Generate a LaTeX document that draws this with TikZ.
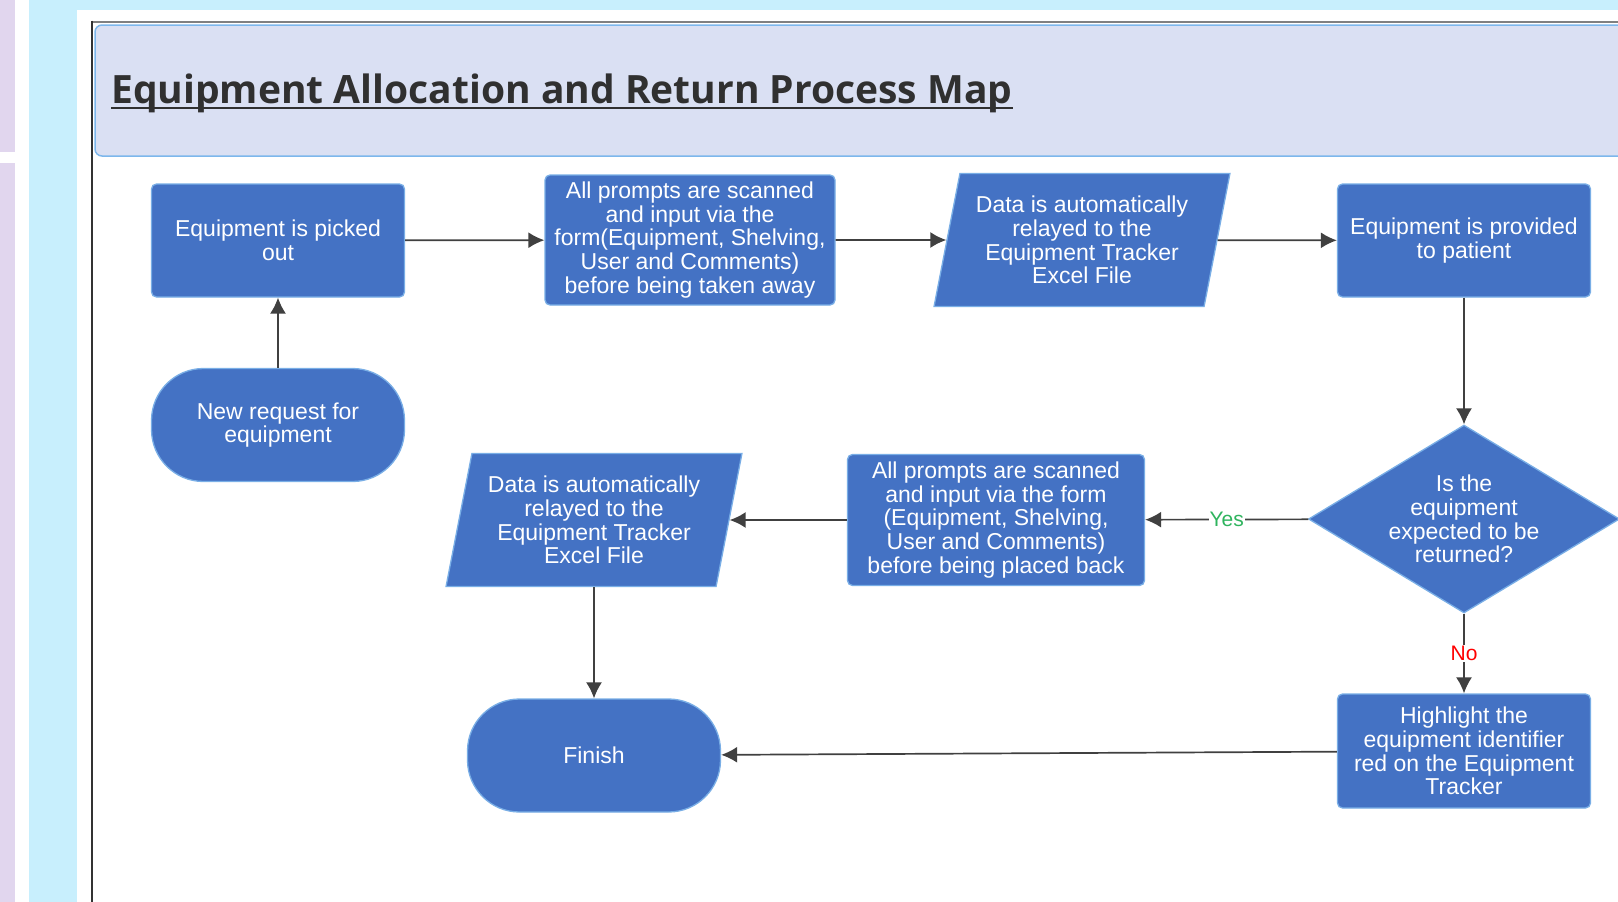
\documentclass[tikz,border=0pt]{standalone}
\usepackage{fontspec}
\setmainfont{Liberation Sans}
\newfontfamily\titlefont{Open Sans}
\usetikzlibrary{shapes.geometric,arrows.meta}

\definecolor{boxblue}{HTML}{4472C4}
\definecolor{edgeblue}{HTML}{79AEE6}
\definecolor{panelfill}{HTML}{DAE0F3}
\definecolor{paneledge}{HTML}{7DB7EC}
\definecolor{sidecyan}{HTML}{C8EFFD}
\definecolor{sidelilac}{HTML}{E1D6EE}
\definecolor{yesgreen}{HTML}{2FB45E}
\definecolor{titlegray}{HTML}{303030}

\tikzset{
  boxtext/.style={font=\fontsize{23}{23.7}\selectfont, text=white, align=center},
  proc/.style={rectangle, rounded corners=5pt, fill=boxblue, draw=edgeblue,
    line width=1.3pt, boxtext, inner sep=3pt, minimum width=253pt, minimum height=113pt},
  term/.style={proc, rounded corners=52pt},
  data/.style={trapezium, trapezium left angle=76, trapezium right angle=104,
    trapezium stretches=true, fill=boxblue, draw=edgeblue, line width=1.3pt,
    boxtext, inner sep=2pt, minimum width=296pt, minimum height=133pt},
  decision/.style={diamond, aspect=1.65, fill=boxblue, draw=edgeblue, line width=1.3pt,
    boxtext, inner sep=1pt, minimum width=311pt, minimum height=188pt},
  flow/.style={draw=black!75, line width=1.7pt, -{Latex[length=16pt,width=16pt]}},
  answer/.style={fill=white, inner sep=1pt, font=\fontsize{21}{22}\selectfont}
}

\begin{document}
\begin{tikzpicture}[x=1pt,y=-1pt]
  \useasboundingbox (0,0) rectangle (1618,902);
  % page background and side strips
  \fill[white] (0,0) rectangle (1618,902);
  \fill[sidelilac] (0,0) rectangle (15,152);
  \fill[sidelilac] (0,163) rectangle (15,902);
  \fill[sidecyan] (29,0) rectangle (1618,10);
  \fill[sidecyan] (29,0) rectangle (77,902);
  \draw[black!50, line width=2pt] (91,21.5) -- (1618,21.5);
  \draw[black!80, line width=2pt] (92,20.5) -- (92,902);

  % heading panel
  \draw[fill=panelfill, draw=paneledge, line width=1.5pt, rounded corners=7pt]
    (95,25) rectangle (1640,156);
  \node[anchor=base west, inner sep=0pt, text=titlegray,
    font=\titlefont\bfseries\fontsize{39}{43}\selectfont] (title) at (111,103)
    {Equipment Allocation and Return Process Map};
  \draw[titlegray, line width=2.6pt] ([yshift=-5pt]title.base west) -- ([yshift=-5pt]title.base east);

  % top row
  \node[proc] (pick) at (278,240.5) {Equipment is picked\\out};
  \node[proc, minimum width=290pt, minimum height=130pt] (scan1) at (690,240)
    {All prompts are scanned\\and input via the\\form(Equipment, Shelving,\\User and Comments)\\before being taken away};
  \node[data] (relay1) at (1082,240)
    {Data is automatically\\relayed to the\\Equipment Tracker\\Excel File};
  \node[proc] (give) at (1464,240.5) {Equipment is provided\\to patient};

  \node[term] (request) at (278,425) {New request for\\equipment};
  \node[decision] (decide) at (1464,519) {Is the\\equipment\\expected to be\\returned?};

  % return row
  \node[proc, minimum width=297pt, minimum height=131pt] (scan2) at (996,520)
    {All prompts are scanned\\and input via the form\\(Equipment, Shelving,\\User and Comments)\\before being placed back};
  \node[data] (relay2) at (594,520)
    {Data is automatically\\relayed to the\\Equipment Tracker\\Excel File};

  \node[term] (finish) at (594,755.5) {Finish};
  \node[proc, minimum height=114pt] (flag) at (1464,751)
    {Highlight the\\equipment identifier\\red on the Equipment\\Tracker};

  % connectors
  \draw[flow] (request) -- (pick);
  \draw[flow] (pick) -- (scan1);
  \draw[flow] (scan1) -- (relay1);
  \draw[flow] (relay1) -- (give);
  \draw[flow] (give) -- (decide);
  \draw[flow] (decide) -- node[answer, text=yesgreen] {Yes} (scan2);
  \draw[flow] (scan2) -- (relay2);
  \draw[flow] (relay2) -- (finish);
  \draw[flow] (decide) -- node[answer, text=red] {No} (flag);
  \draw[flow] (flag) -- (finish);
\end{tikzpicture}
\end{document}
